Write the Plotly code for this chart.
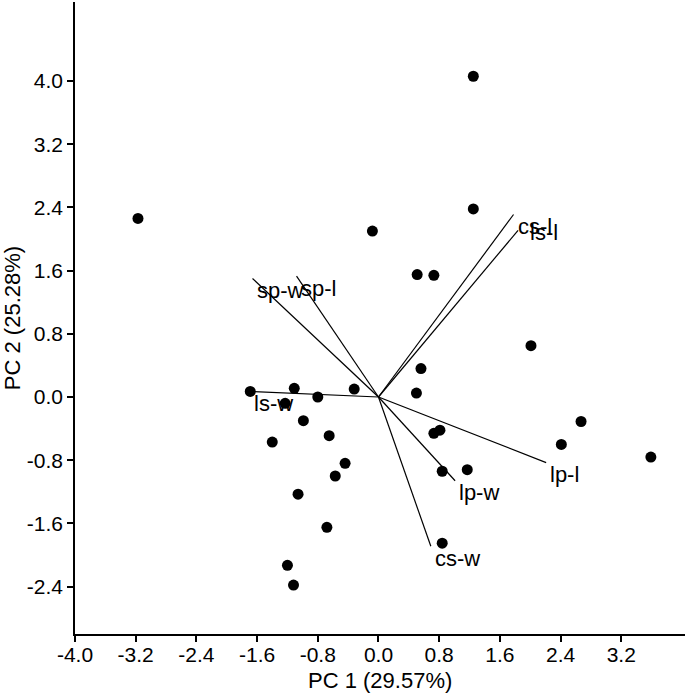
import plotly.graph_objects as go

# PCA scores (PC1, PC2)
pc1_scores = [1.25, 1.25, -3.17, -0.08, 0.51, 0.73, 2.01, 0.56, -1.69, -1.11,
              -0.32, 0.50, -0.80, -1.23, -0.99, -1.40, -0.65, 0.73, 0.81, 2.67,
              2.41, -0.44, -0.57, 0.84, 1.17, 3.59, -1.06, -0.68, 0.84, -1.20, -1.12]
pc2_scores = [4.06, 2.38, 2.26, 2.10, 1.55, 1.54, 0.65, 0.36, 0.07, 0.11,
              0.10, 0.05, 0.00, -0.08, -0.30, -0.57, -0.49, -0.46, -0.42, -0.31,
              -0.60, -0.84, -1.00, -0.94, -0.92, -0.76, -1.23, -1.65, -1.85, -2.13, -2.38]

# loading vectors (end points)
var_names = ['sp-w', 'sp-l', 'ls-w', 'cs-l', 'ls-l', 'lp-l', 'lp-w', 'cs-w']
var_pc1 = [-1.66, -1.08, -1.69, 1.78, 1.84, 2.21, 1.01, 0.69]
var_pc2 = [1.50, 1.53, 0.07, 2.31, 2.11, -0.83, -1.06, -1.89]

x_ticks = [-4.0, -3.2, -2.4, -1.6, -0.8, 0.0, 0.8, 1.6, 2.4, 3.2]
y_ticks = [-2.4, -1.6, -0.8, 0.0, 0.8, 1.6, 2.4, 3.2, 4.0]

FONT = 'Liberation Sans, Arial, sans-serif'

# label nudges in px (x, y)
label_shift = {'ls-l': (10, -2)}

fig = go.Figure()

lx, ly = [], []
for x, y in zip(var_pc1, var_pc2):
    lx += [0, x, None]
    ly += [0, y, None]
fig.add_trace(go.Scatter(x=lx, y=ly, mode='lines',
                         line=dict(color='black', width=1.2),
                         showlegend=False, hoverinfo='skip'))

fig.add_trace(go.Scatter(x=pc1_scores, y=pc2_scores, mode='markers',
                         marker=dict(color='black', size=11),
                         showlegend=False))

for name, x, y in zip(var_names, var_pc1, var_pc2):
    dx, dy = label_shift.get(name, (2, -12))
    fig.add_annotation(x=x, y=y, text=name, showarrow=False,
                       xanchor='left', yanchor='middle',
                       xshift=dx, yshift=dy,
                       font=dict(family=FONT, size=22, color='black'))

# x axis title placed by hand, a bit tighter than plotly's default
fig.add_annotation(x=0.5, y=0, xref='paper', yref='paper', text='PC 1 (29.57%)',
                   showarrow=False, xanchor='center', yanchor='top', yshift=-32,
                   font=dict(family=FONT, size=22, color='black'))

fmt = lambda v: f"{v:.1f}"

fig.update_xaxes(range=[-4.0, 4.04], tickvals=x_ticks,
                 ticktext=[fmt(v) for v in x_ticks],
                 automargin=False, ticklabelstandoff=-5,
                 showline=True, linecolor='black', linewidth=1.5,
                 ticks='outside', ticklen=6, tickwidth=1.5, tickcolor='black',
                 showgrid=False, zeroline=False,
                 tickfont=dict(family=FONT, size=21, color='black'))
fig.update_yaxes(range=[-3.0, 5.0], tickvals=y_ticks,
                 ticktext=[fmt(v) for v in y_ticks],
                 automargin=False,
                 showline=True, linecolor='black', linewidth=1.5,
                 ticks='outside', ticklen=6, tickwidth=1.5, tickcolor='black',
                 showgrid=False, zeroline=False,
                 tickfont=dict(family=FONT, size=21, color='black'),
                 title=dict(text='PC 2 (25.28%)', standoff=4,
                            font=dict(family=FONT, size=22, color='black')))

fig.update_layout(width=685, height=694,
                  margin=dict(l=75, r=0, t=2, b=60),
                  plot_bgcolor='white', paper_bgcolor='white')

fig.write_html("out.html", config={'displayModeBar': False},
               post_script="document.body.style.margin='0px';document.body.style.overflow='hidden';")
